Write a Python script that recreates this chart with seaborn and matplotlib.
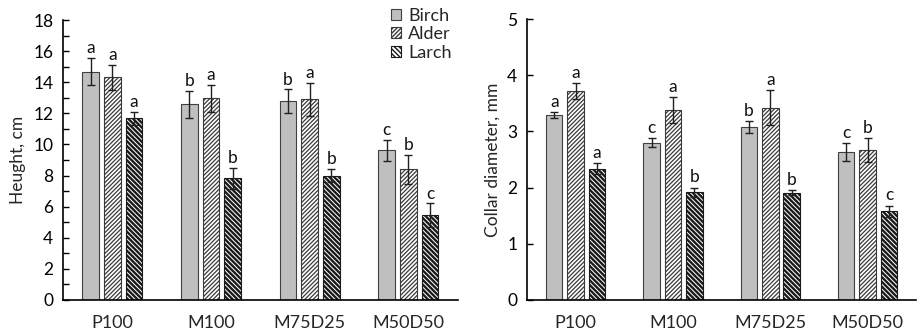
import numpy as np
import pandas as pd
import matplotlib
matplotlib.use("Agg")
import matplotlib.pyplot as plt
import seaborn as sns
from matplotlib.patches import Patch
from matplotlib.ticker import MultipleLocator

treatments = ["P100", "M100", "M75D25", "M50D50"]
species = ["Birch", "Alder", "Larch"]

height_birch = [14.68, 12.58, 12.77, 9.62]
height_alder = [14.31, 12.96, 12.90, 8.40]
height_larch = [11.68, 7.82, 7.99, 5.44]
height_err_birch = [0.87, 0.88, 0.77, 0.67]
height_err_alder = [0.80, 0.88, 1.07, 0.92]
height_err_larch = [0.40, 0.67, 0.43, 0.77]
height_letters_birch = ["a", "b", "b", "c"]
height_letters_alder = ["a", "a", "a", "b"]
height_letters_larch = ["a", "b", "b", "c"]

collar_birch = [3.29, 2.80, 3.08, 2.63]
collar_alder = [3.72, 3.38, 3.42, 2.67]
collar_larch = [2.34, 1.92, 1.91, 1.58]
collar_err_birch = [0.05, 0.08, 0.11, 0.16]
collar_err_alder = [0.14, 0.23, 0.31, 0.21]
collar_err_larch = [0.10, 0.08, 0.05, 0.10]
collar_letters_birch = ["a", "c", "b", "c"]
collar_letters_alder = ["a", "a", "a", "b"]
collar_letters_larch = ["a", "b", "b", "c"]

sns.set_theme(style="ticks")
plt.rcParams["font.family"] = ["Lato", "DejaVu Sans"]
plt.rcParams["hatch.linewidth"] = 1.0


def build(values, errs, letters):
    rows = []
    for sp, vals, es, ls in zip(species, values, errs, letters):
        for t, v, e, l in zip(treatments, vals, es, ls):
            rows.append({"Treatment": t, "Species": sp, "value": v, "err": e, "letter": l})
    return pd.DataFrame(rows)


df_h = build([height_birch, height_alder, height_larch],
             [height_err_birch, height_err_alder, height_err_larch],
             [height_letters_birch, height_letters_alder, height_letters_larch])
df_c = build([collar_birch, collar_alder, collar_larch],
             [collar_err_birch, collar_err_alder, collar_err_larch],
             [collar_letters_birch, collar_letters_alder, collar_letters_larch])

fig = plt.figure(figsize=(9.19, 3.35), dpi=100)
ax1 = fig.add_axes([0.0686, 0.1045, 0.4294, 0.8355])
ax2 = fig.add_axes([0.5734, 0.1045, 0.4236, 0.8385])

fills = {"Birch": "#bfbfbf", "Alder": "white", "Larch": "white"}
hatches = {"Birch": "", "Alder": "////////", "Larch": "\\\\\\\\\\\\\\"}
hatch_lw = {"Birch": 1.0, "Alder": 0.9, "Larch": 1.7}
edges = {"Birch": "#404040", "Alder": "#3a3a3a", "Larch": "#1a1a1a"}


def style_patch(p, sp):
    p.set_hatch(hatches[sp])
    p.set_edgecolor(edges[sp])
    if hasattr(p, "set_hatch_linewidth"):
        p.set_hatch_linewidth(hatch_lw[sp])


def draw(ax, df, ymax, ylabel, major, minor, letter_off):
    sns.barplot(data=df, x="Treatment", y="value", hue="Species", order=treatments,
                hue_order=species, palette=fills, width=0.66, gap=0.23,
                errorbar=None, edgecolor="#404040", linewidth=0.8, legend=False, ax=ax)
    for container, sp in zip(ax.containers, species):
        sub = df[df["Species"] == sp].set_index("Treatment").loc[treatments]
        xs = [b.get_x() + b.get_width() / 2 for b in container]
        for b in container:
            style_patch(b, sp)
        ax.errorbar(xs, sub["value"], yerr=sub["err"], fmt="none", ecolor="#202020",
                    elinewidth=1.0, capsize=3, capthick=1.0, zorder=5)
        for x, v, e, l in zip(xs, sub["value"], sub["err"], sub["letter"]):
            ax.text(x, v + e + letter_off, l, ha="center", va="bottom", fontsize=12.5,
                    color="#111111")
    ax.set_ylim(0, ymax)
    ax.set_xlim(-0.5, 3.5)
    ax.yaxis.set_major_locator(MultipleLocator(major))
    if minor:
        ax.yaxis.set_minor_locator(MultipleLocator(minor))
    ax.tick_params(axis="y", which="both", direction="in", length=4, width=1, labelsize=12.5,
                   colors="black", pad=7)
    ax.tick_params(axis="x", length=0, labelsize=13, pad=11)
    ax.set_xlabel("")
    ax.set_ylabel(ylabel, fontsize=12.5, labelpad=5)
    for s in ["top", "right"]:
        ax.spines[s].set_visible(False)
    for s in ["left", "bottom"]:
        ax.spines[s].set_color("black")
        ax.spines[s].set_linewidth(1.2)


draw(ax1, df_h, 18, "Heught, cm", 2, 1, 0.12)
draw(ax2, df_c, 5, "Collar diameter, mm", 1, None, 0.04)

handles = []
for s in species:
    p = Patch(facecolor=fills[s], edgecolor=edges[s], linewidth=0.8)
    style_patch(p, s)
    handles.append(p)
ax1.legend(handles, species, loc="upper right", bbox_to_anchor=(0.985, 1.045), frameon=False,
           fontsize=13, handlelength=0.55, handleheight=0.55, handletextpad=0.4,
           labelspacing=0.15, borderaxespad=0.0, borderpad=0.0)

fig.savefig("out.png", dpi=100)
